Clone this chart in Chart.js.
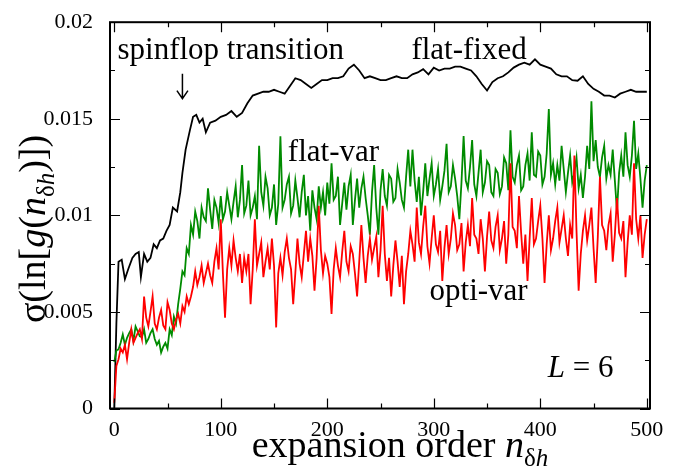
<!DOCTYPE html>
<html>
<head>
<meta charset="utf-8">
<script src="https://cdn.jsdelivr.net/npm/chart.js@4.4.1/dist/chart.umd.min.js"></script>
<style>
  html, body { margin: 0; padding: 0; background: #fff; }
  #c { display: block; }
</style>
</head>
<body>
<canvas id="c" width="678" height="470"></canvas>
<script>
// Eixos
const xTicks = [0, 100, 200, 300, 400, 500];
const xMinor = [50, 150, 250, 350, 450];
const yTicks = [0, 0.005, 0.01, 0.015, 0.02];
const yTickLabels = ['0', '0.005', '0.01', '0.015', '0.02'];
const yMinor = [0.0025, 0.0075, 0.0125, 0.0175];

// flat-fixed (preto)
const fixedOrders = [0, 2, 4, 7, 10, 13, 17, 20, 23, 25, 28, 31, 34, 37, 40, 43, 46, 49, 52, 55,
  59, 62, 64, 67, 71, 74, 77, 80, 83, 86, 90, 95, 100, 105, 110, 115, 120,
  125, 130, 135, 140, 145, 150, 155, 160, 165, 170, 175, 180, 185, 190, 195, 200,
  205, 210, 215, 220, 225, 230, 235, 240, 245, 250, 255, 260, 265, 270, 275, 280,
  285, 290, 295, 300, 305, 310, 315, 320, 325, 330, 335, 340, 345, 350, 355, 360,
  365, 370, 375, 380, 385, 390, 395, 400, 405, 410, 415, 420, 425, 430, 435, 440,
  445, 450, 455, 460, 465, 470, 475, 480, 485, 490, 495, 500];
const fixedSigma = [0, 0.0044, 0.0076, 0.0077, 0.0067, 0.0072, 0.0078, 0.0080, 0.0081, 0.0068,
  0.0080, 0.0076, 0.0078, 0.0085, 0.0083, 0.0087, 0.0088, 0.0092, 0.0095, 0.0104,
  0.0102, 0.0112, 0.0122, 0.0134, 0.0144, 0.0151, 0.0152, 0.0148, 0.0150, 0.0143,
  0.0148, 0.0149, 0.0151, 0.0152, 0.0154, 0.0151, 0.0153,
  0.0158, 0.0162, 0.0163, 0.0164, 0.0164, 0.0165, 0.0164, 0.0163, 0.0167, 0.0171,
  0.0170, 0.0168, 0.0166, 0.0168, 0.0170, 0.0170, 0.0171, 0.0171, 0.0172, 0.0176,
  0.0178, 0.0175, 0.0171, 0.0172, 0.0171, 0.0170, 0.0170, 0.0171, 0.0172, 0.0171,
  0.0171, 0.0173, 0.0174, 0.01757, 0.0173, 0.01765, 0.0175, 0.0176, 0.0176, 0.0177,
  0.0177, 0.0176, 0.0175, 0.0172, 0.0168, 0.01646, 0.0169, 0.0171, 0.0172, 0.0174,
  0.01765, 0.0178, 0.0179, 0.0178, 0.01808, 0.0178, 0.0177, 0.0176, 0.0173, 0.0172,
  0.0172, 0.0170, 0.01697, 0.0172, 0.0168, 0.01655, 0.0164, 0.0162, 0.0162, 0.0161,
  0.0163, 0.0164, 0.0165, 0.0164, 0.0164, 0.0164];

// flat-var (verde) e opti-var (vermelho), lidos a cada 2 ordens
const varOrders = Array.from({ length: 251 }, (_, i) => i * 2);
const flatVar = [
  0.0024, 0.0030, 0.00306, 0.0034, 0.00383, 0.0033, 0.00366, 0.0039, 0.0041, 0.0035,
  0.00425, 0.0040, 0.00374, 0.0037, 0.0041, 0.0034, 0.0036, 0.0039, 0.0041, 0.0036,
  0.0033, 0.0035, 0.0029, 0.0032, 0.0034, 0.0031, 0.0041, 0.0038, 0.00476, 0.0044,
  0.0054, 0.0062, 0.0071, 0.0069, 0.0083, 0.0080, 0.0095, 0.0090, 0.0102, 0.0097,
  0.0088, 0.0104, 0.0099, 0.0097, 0.0114, 0.0103, 0.0093, 0.0108, 0.0104, 0.0096,
  0.0110, 0.0098, 0.0102, 0.0112, 0.0105, 0.0098, 0.0107, 0.0115, 0.0099, 0.0108,
  0.0126, 0.0101, 0.0105, 0.0118, 0.0100, 0.0104, 0.0110, 0.0098, 0.0136, 0.0112,
  0.0105, 0.0120, 0.0114, 0.0100, 0.0104, 0.0116, 0.0095, 0.0106, 0.0141, 0.0104,
  0.0108, 0.0116, 0.0120, 0.0101, 0.0105, 0.0118, 0.0109, 0.0099, 0.0112, 0.0121,
  0.0100, 0.0110, 0.0092, 0.0113, 0.0104, 0.0098, 0.0115, 0.0104, 0.0112, 0.0100,
  0.0117, 0.0106, 0.0127, 0.0108, 0.0110, 0.0120, 0.0095, 0.0106, 0.0117, 0.0103,
  0.0115, 0.0121, 0.0095, 0.0108, 0.0119, 0.0104, 0.0114, 0.0120, 0.0109, 0.0100,
  0.0090, 0.0112, 0.0126, 0.0104, 0.0090, 0.0113, 0.0124, 0.0110, 0.0105, 0.0121,
  0.0119, 0.0107, 0.0109, 0.0124, 0.0117, 0.0108, 0.0104, 0.0120, 0.0134, 0.0115,
  0.0134, 0.0118, 0.0107, 0.0120, 0.0100, 0.0112, 0.0127, 0.0110, 0.0119, 0.0127,
  0.0110, 0.0116, 0.0124, 0.0108, 0.0115, 0.0123, 0.0137, 0.0112, 0.0115, 0.0126,
  0.0119, 0.0110, 0.0098, 0.0117, 0.0141, 0.0118, 0.0114, 0.0125, 0.0139, 0.0116,
  0.0110, 0.0122, 0.0134, 0.0112, 0.0117, 0.0128, 0.0126, 0.0112, 0.0110, 0.0124,
  0.0122, 0.0111, 0.0115, 0.0130, 0.0127, 0.0113, 0.0144, 0.0120, 0.0117, 0.0126,
  0.0131, 0.0113, 0.0115, 0.0126, 0.0132, 0.0118, 0.0143, 0.0121, 0.0120, 0.0133,
  0.0131, 0.0116, 0.0120, 0.0132, 0.0155, 0.0121, 0.0127, 0.0116, 0.0126, 0.0118,
  0.0136, 0.0124, 0.0112, 0.0122, 0.0131, 0.0117, 0.0122, 0.0130, 0.0114, 0.0121,
  0.0109, 0.0120, 0.0136, 0.0124, 0.0159, 0.0128, 0.0139, 0.0125, 0.0120, 0.0130,
  0.0136, 0.0119, 0.0126, 0.0121, 0.0134, 0.0118, 0.0102, 0.0122, 0.0131, 0.0120,
  0.0143, 0.0126, 0.0120, 0.0131, 0.0149, 0.0124, 0.0132, 0.0119, 0.0104, 0.0118,
  0.0126];
const optiVar = [
  0.0003, 0.0022, 0.00255, 0.0031, 0.0029, 0.0033, 0.00255, 0.0034, 0.0041, 0.0034,
  0.00366, 0.0039, 0.0041, 0.0036, 0.0058, 0.0047, 0.00425, 0.0050, 0.0058, 0.0044,
  0.0041, 0.0047, 0.0051, 0.0043, 0.0041, 0.0055, 0.0051, 0.0044, 0.0041, 0.0046,
  0.0049, 0.0044, 0.0053, 0.0050, 0.0058, 0.0054, 0.0058, 0.0063, 0.0071, 0.0064,
  0.0068, 0.0074, 0.0065, 0.0070, 0.0075, 0.0069, 0.0065, 0.0076, 0.0083, 0.0072,
  0.0098, 0.0070, 0.0047, 0.0072, 0.0083, 0.0074, 0.0087, 0.0078, 0.0071, 0.0080,
  0.0065, 0.0078, 0.0071, 0.0080, 0.0054, 0.0072, 0.0098, 0.0074, 0.0080, 0.0086,
  0.0068, 0.0076, 0.0083, 0.0072, 0.0088, 0.0074, 0.0042, 0.0070, 0.0078, 0.0069,
  0.0081, 0.0088, 0.0078, 0.0072, 0.0054, 0.0070, 0.0088, 0.0075, 0.0068, 0.0080,
  0.0092, 0.0076, 0.0088, 0.0079, 0.0061, 0.0078, 0.0105, 0.0082, 0.0070, 0.0079,
  0.0075, 0.0068, 0.0049, 0.0072, 0.0083, 0.0074, 0.0068, 0.0081, 0.0092, 0.0076,
  0.0071, 0.0084, 0.0080, 0.0070, 0.0058, 0.0076, 0.0095, 0.0078, 0.0065, 0.0079,
  0.0088, 0.0077, 0.0083, 0.0089, 0.0068, 0.0082, 0.0105, 0.0080, 0.0066, 0.0078,
  0.0058, 0.0074, 0.0087, 0.0076, 0.0063, 0.0079, 0.0054, 0.0071, 0.0080, 0.0092,
  0.0085, 0.0076, 0.0104, 0.0086, 0.0080, 0.0094, 0.0105, 0.0084, 0.0075, 0.0088,
  0.0100, 0.0085, 0.0081, 0.0092, 0.0066, 0.0083, 0.0095, 0.0080, 0.0088, 0.0101,
  0.0095, 0.0082, 0.0085, 0.0096, 0.0071, 0.0086, 0.0095, 0.0084, 0.0109, 0.0090,
  0.0088, 0.0080, 0.0098, 0.0088, 0.0071, 0.0089, 0.0102, 0.0087, 0.0083, 0.0094,
  0.0100, 0.0082, 0.0088, 0.0097, 0.0075, 0.0090, 0.0127, 0.0094, 0.0092, 0.0083,
  0.0110, 0.0091, 0.0075, 0.0090, 0.0066, 0.0088, 0.0109, 0.0085, 0.0088, 0.0097,
  0.0105, 0.0088, 0.0065, 0.0085, 0.0100, 0.0082, 0.0088, 0.0097, 0.0104, 0.0086,
  0.0093, 0.0100, 0.0088, 0.0079, 0.0095, 0.0088, 0.0131, 0.0092, 0.0061, 0.0080,
  0.0092, 0.0100, 0.0087, 0.0095, 0.0104, 0.0083, 0.0065, 0.0089, 0.0120, 0.0095,
  0.0092, 0.0082, 0.0095, 0.0101, 0.0076, 0.0090, 0.0109, 0.0091, 0.0088, 0.0097,
  0.0068, 0.0086, 0.0100, 0.0090, 0.0127, 0.0098, 0.0088, 0.0100, 0.0078, 0.0090,
  0.0098];

const serif = 'Liberation Serif';

function pontos(xs, ys) {
  return xs.map((x, i) => ({ x, y: ys[i] }));
}

// Texto com trechos de fontes diferentes
function drawRuns(ctx, runs, x, y, center) {
  let w = 0;
  runs.forEach(r => { ctx.font = r[1]; w += ctx.measureText(r[0]).width; });
  let cx = center ? x - w / 2 : x;
  runs.forEach(r => {
    ctx.font = r[1];
    ctx.fillText(r[0], cx, y + (r[2] || 0));
    cx += ctx.measureText(r[0]).width;
  });
}

// Moldura, ticks internos, anotações e títulos dos eixos
const decor = {
  id: 'decor',
  afterDraw(chart) {
    const { ctx, chartArea: a } = chart;
    const sx = chart.scales.x, sy = chart.scales.y;
    ctx.save();
    ctx.strokeStyle = '#000';
    ctx.lineWidth = 1.2;
    ctx.beginPath();
    const tx = (v, len) => {
      const p = Math.round(sx.getPixelForValue(v)) + 0.5;
      ctx.moveTo(p, a.bottom); ctx.lineTo(p, a.bottom - len);
      ctx.moveTo(p, a.top); ctx.lineTo(p, a.top + len);
    };
    const ty = (v, len) => {
      const p = Math.round(sy.getPixelForValue(v)) + 0.5;
      ctx.moveTo(a.left, p); ctx.lineTo(a.left + len, p);
      ctx.moveTo(a.right, p); ctx.lineTo(a.right - len, p);
    };
    xTicks.forEach(v => tx(v, 10));
    xMinor.forEach(v => tx(v, 5));
    yTicks.forEach(v => ty(v, 10));
    yMinor.forEach(v => ty(v, 5));
    ctx.stroke();

    ctx.lineWidth = 2;
    ctx.strokeRect(a.left, a.top, a.right - a.left, a.bottom - a.top);

    // seta da transição
    const ax = sx.getPixelForValue(64);
    const ay0 = sy.getPixelForValue(0.01733);
    const ay1 = sy.getPixelForValue(0.01604);
    ctx.lineWidth = 1.5;
    ctx.beginPath();
    ctx.moveTo(ax, ay0); ctx.lineTo(ax, ay1);
    ctx.moveTo(ax - 5.5, ay1 - 8); ctx.lineTo(ax, ay1); ctx.lineTo(ax + 5.5, ay1 - 8);
    ctx.stroke();

    ctx.fillStyle = '#000';
    ctx.textBaseline = 'alphabetic';
    ctx.textAlign = 'left';
    const f = '31px "' + serif + '"';
    const fi = 'italic 31px "' + serif + '"';
    ctx.font = f;
    ctx.fillText('spinflop transition', sx.getPixelForValue(3), sy.getPixelForValue(0.01808));
    ctx.fillText('flat-fixed', sx.getPixelForValue(279), sy.getPixelForValue(0.01808));
    ctx.fillText('flat-var', sx.getPixelForValue(163), sy.getPixelForValue(0.01281));
    ctx.fillText('opti-var', sx.getPixelForValue(296), sy.getPixelForValue(0.00562));
    drawRuns(ctx, [['L', fi], [' = 6', f]], sx.getPixelForValue(407), sy.getPixelForValue(0.00165), false);

    // títulos dos eixos
    const ft = '38px "' + serif + '"';
    const fti = 'italic 38px "' + serif + '"';
    const fs = '25px "' + serif + '"';
    const fsi = 'italic 25px "' + serif + '"';
    drawRuns(ctx, [['expansion order ', ft], ['n', fti], ['\u03b4', fs, 9], ['h', fsi, 9]],
      400, 457, true);

    ctx.translate(45, 229);
    ctx.rotate(-Math.PI / 2);
    drawRuns(ctx, [['\u03c3(ln[', ft], ['g', fti], ['(', ft], ['n', fti], ['\u03b4', fs, 9], ['h', fsi, 9], [')])', ft]],
      0, 0, true);
    ctx.restore();
  }
};

new Chart(document.getElementById('c'), {
  type: 'line',
  data: {
    datasets: [
      { label: 'opti-var', data: pontos(varOrders, optiVar), borderColor: '#ff0000', borderWidth: 1.8, order: 0 },
      { label: 'flat-var', data: pontos(varOrders, flatVar), borderColor: '#008b00', borderWidth: 1.8, order: 1 },
      { label: 'flat-fixed', data: pontos(fixedOrders, fixedSigma), borderColor: '#000000', borderWidth: 1.8, order: 2 }
    ]
  },
  options: {
    responsive: false,
    animation: false,
    devicePixelRatio: 1,
    parsing: false,
    layout: { padding: { top: 15.5, right: 28, left: 0, bottom: 0 } },
    elements: { point: { radius: 0 }, line: { tension: 0, fill: false } },
    plugins: { legend: { display: false }, tooltip: { enabled: false } },
    scales: {
      x: {
        type: 'linear', min: -4, max: 503,
        grid: { display: false }, border: { display: false },
        ticks: { color: '#000', font: { family: serif, size: 22 }, padding: 1, maxRotation: 0 },
        afterBuildTicks: s => { s.ticks = xTicks.map(v => ({ value: v })); },
        afterFit: s => { s.height = 61.5; }
      },
      y: {
        type: 'linear', min: 0, max: 0.02,
        grid: { display: false }, border: { display: false },
        ticks: {
          color: '#000', font: { family: serif, size: 22 }, padding: 9,
          callback: (v, i) => yTickLabels[i]
        },
        afterBuildTicks: s => { s.ticks = yTicks.map(v => ({ value: v })); },
        afterFit: s => { s.width = 110; }
      }
    }
  },
  plugins: [decor]
});
</script>
</body>
</html>
